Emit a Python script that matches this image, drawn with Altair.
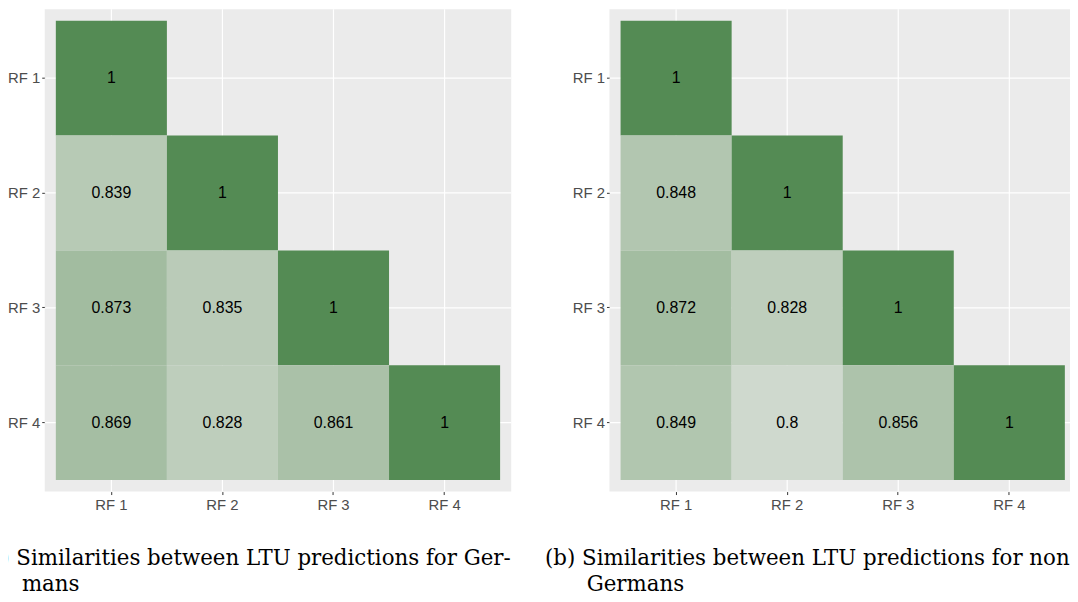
import altair as alt
import pandas as pd

# ---- data ----
categories = ["RF 1", "RF 2", "RF 3", "RF 4"]
row_ids = ["RF 1", "RF 2", "RF 2", "RF 3", "RF 3", "RF 3", "RF 4", "RF 4", "RF 4", "RF 4"]
col_ids = ["RF 1", "RF 1", "RF 2", "RF 1", "RF 2", "RF 3", "RF 1", "RF 2", "RF 3", "RF 4"]
values_a = [1, 0.839, 1, 0.873, 0.835, 1, 0.869, 0.828, 0.861, 1]
values_b = [1, 0.848, 1, 0.872, 0.828, 1, 0.849, 0.8, 0.856, 1]
caption_a = ["(a) Similarities between LTU predictions for Ger-", "mans"]
caption_b = ["(b) Similarities between LTU predictions for non-", "Germans"]

W, H = 470, 486
SANS = "Liberation Sans"
SERIF = "DejaVu Serif"


def panel(values, caption, limit=None):
    df = pd.DataFrame({
        "row": row_ids,
        "col": col_ids,
        "value": values,
        "label": [f"{v:g}" for v in values],
    })
    grid_df = pd.DataFrame({"row": categories, "col": categories})
    axis_common = dict(
        title=None, domain=False, grid=False,
        tickColor="#333333", tickSize=3, tickWidth=1, labelColor="#4D4D4D",
        labelFont=SANS, labelFontSize=15, bandPosition=0.5,
    )
    xenc = alt.X("col:N", sort=categories,
                 scale=alt.Scale(domain=categories, paddingInner=0, paddingOuter=0.1),
                 axis=alt.Axis(labelAngle=0, labelPadding=3, **axis_common))
    yenc = alt.Y("row:N", sort=categories,
                 scale=alt.Scale(domain=categories, paddingInner=0, paddingOuter=0.1),
                 axis=alt.Axis(labelPadding=2, **axis_common))
    vgrid = alt.Chart(grid_df).mark_rule(color="white", strokeWidth=1.2).encode(x=xenc)
    hgrid = alt.Chart(grid_df).mark_rule(color="white", strokeWidth=1.2).encode(y=yenc)
    base = alt.Chart(df)
    rect = base.mark_rect().encode(
        x=xenc, y=yenc,
        color=alt.Color("value:Q",
                        scale=alt.Scale(domain=[0.756, 1], range=["#EBEBEB", "#548B54"]),
                        legend=None),
    )
    text = base.mark_text(font=SANS, fontSize=16, color="black").encode(
        x=xenc, y=yenc, text="label:N"
    )
    cap_kw = dict(align="left", baseline="alphabetic", font=SERIF, fontSize=21.5, color="black")
    if limit is not None:
        cap_kw.update(limit=limit, ellipsis="\u200b")
    cap1 = alt.Chart(pd.DataFrame({"t": [caption[0]]})).mark_text(**cap_kw).encode(
        x=alt.value(-65), y=alt.value(560), text="t:N")
    cap2 = alt.Chart(pd.DataFrame({"t": [caption[1]]})).mark_text(
        align="left", baseline="alphabetic", font=SERIF, fontSize=21.5, color="black"
    ).encode(x=alt.value(-23), y=alt.value(586), text="t:N")
    return alt.layer(vgrid, hgrid, rect, text, cap1, cap2).properties(width=W, height=H)


chart = alt.hconcat(
    panel(values_a, caption_a),
    panel(values_b, caption_b, limit=529),
    spacing=99, bounds="flush",
).resolve_scale(color="shared").properties(
    padding={"left": -28, "top": -2, "right": -7, "bottom": -2}
).configure(font=SANS, background="white").configure_view(fill="#EBEBEB", strokeWidth=0)

chart.save("out.html", embed_options={"renderer": "svg", "actions": False})
